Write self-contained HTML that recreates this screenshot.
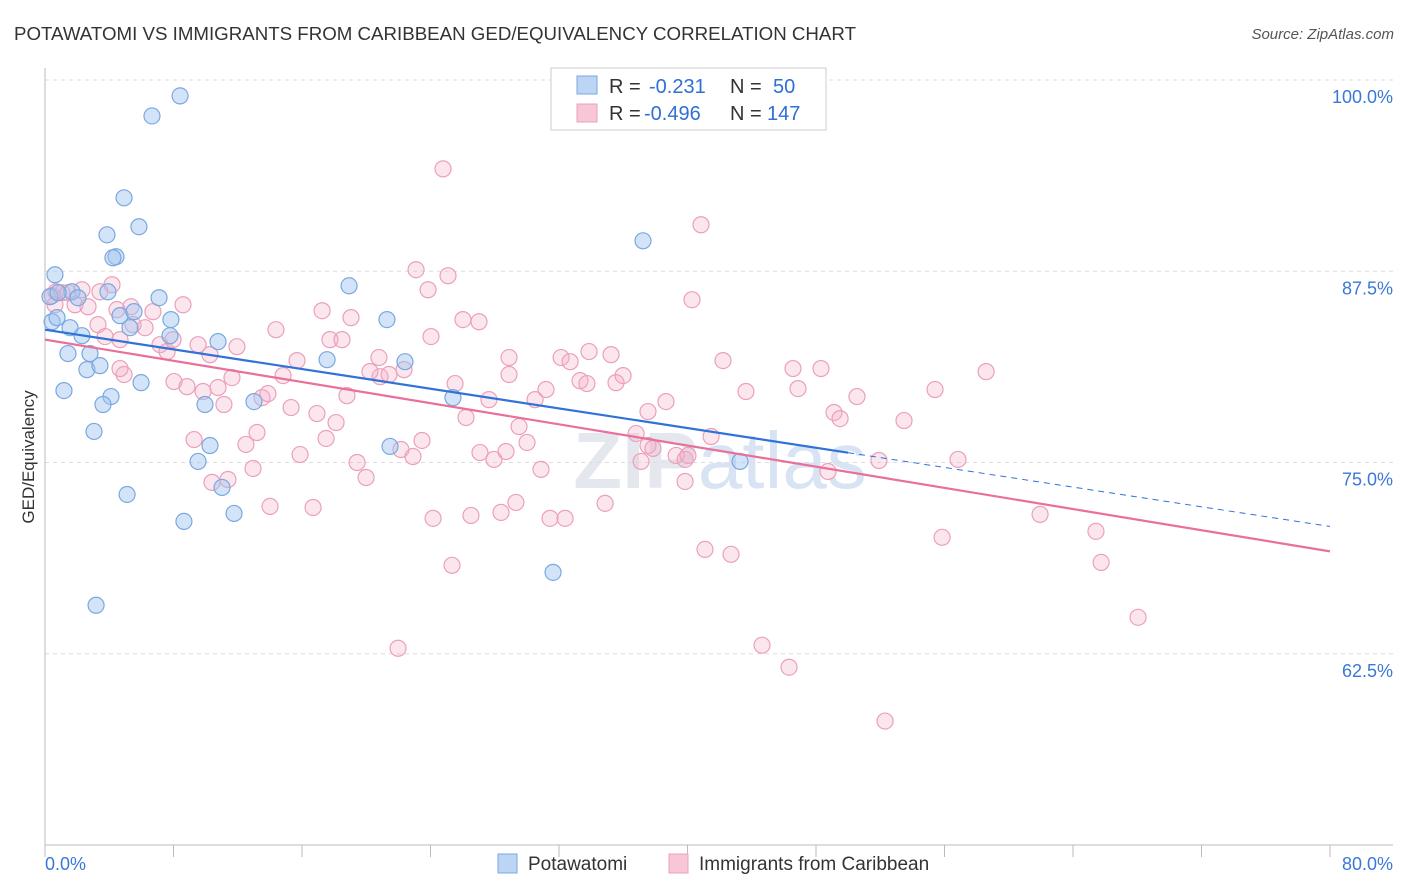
<!DOCTYPE html>
<html><head><meta charset="utf-8">
<style>
body{margin:0;background:#fff;font-family:"Liberation Sans",sans-serif;}
svg{display:block}
</style></head>
<body>
<svg id="chart" width="1406" height="892" xmlns="http://www.w3.org/2000/svg">
<text x="14" y="40" font-size="18.5" fill="#333" textLength="842" lengthAdjust="spacingAndGlyphs">POTAWATOMI VS IMMIGRANTS FROM CARIBBEAN GED/EQUIVALENCY CORRELATION CHART</text>
<text x="1394" y="39" font-size="15" fill="#555" font-style="italic" text-anchor="end">Source: ZipAtlas.com</text>
<text x="720" y="488" font-size="80" fill="#e4e8ee" text-anchor="middle" font-weight="bold">ZIP<tspan fill="#d8e4f4" font-weight="normal">atlas</tspan></text>
<text transform="translate(34,457) rotate(-90)" font-size="17" fill="#333" text-anchor="middle">GED/Equivalency</text>
<g id="grid"></g><g id="axes"></g><g id="pts"></g><g id="lines"></g>
<g>
<rect x="551" y="68" width="275" height="62" fill="#fff" stroke="#ccc"/>
<rect x="577" y="76" width="20" height="18" fill="#bcd5f5" stroke="#7aa8e0"/>
<rect x="577" y="104" width="20" height="18" fill="#f9c6d6" stroke="#eba0bb"/>
<text x="609" y="93" font-size="20" fill="#333">R = <tspan fill="#2f6fd6" x="649">-0.231</tspan><tspan x="730">N = </tspan><tspan fill="#2f6fd6" x="773">50</tspan></text>
<text x="609" y="120" font-size="20" fill="#333">R = <tspan fill="#2f6fd6" x="644">-0.496</tspan><tspan x="730">N = </tspan><tspan fill="#2f6fd6" x="767">147</tspan></text>
</g>
<g>
<rect x="498" y="854" width="19" height="19" fill="#bcd5f5" stroke="#7aa8e0"/>
<text x="528" y="870" font-size="19" fill="#333">Potawatomi</text>
<rect x="669" y="854" width="19" height="19" fill="#f9c6d6" stroke="#eba0bb"/>
<text x="699" y="870" font-size="19" fill="#333">Immigrants from Caribbean</text>
</g>
</svg>
<script>
const yTicks=[100,87.5,75,62.5];
const yTickLabels=["100.0%","87.5%","75.0%","62.5%"];
const xTickLabels=["0.0%","80.0%"];
const blueX=[8.41,6.66,4.92,5.85,3.86,4.42,4.23,37.23,0.62,18.93,7.10,3.92,0.31,1.68,0.81,2.05,0.44,0.75,1.56,2.30,4.67,5.54,7.84,5.29,10.77,7.78,21.29,1.43,2.80,2.61,3.42,17.56,22.41,1.18,5.98,4.11,3.61,13.01,9.96,25.40,3.05,10.27,21.48,9.53,11.02,43.27,5.11,11.77,8.65,31.63,3.18];
const blueY=[98.96,97.65,92.30,90.41,89.88,88.45,88.38,89.49,87.27,86.55,85.77,86.16,85.84,86.16,86.10,85.77,84.20,84.47,83.81,83.29,84.60,84.86,84.34,83.81,82.90,83.29,84.34,82.12,82.12,81.07,81.33,81.72,81.59,79.70,80.22,79.31,78.79,78.98,78.79,79.24,77.03,76.11,76.05,75.07,73.37,75.07,72.91,71.67,71.15,67.82,65.67];
const pinkX=[24.78,40.84,23.10,25.09,23.85,40.28,0.68,1.06,1.43,2.30,3.42,1.87,2.68,0.62,0.44,8.59,4.48,5.35,6.72,17.25,19.05,26.02,27.02,14.38,24.03,3.30,3.74,4.67,6.23,5.48,7.16,7.60,7.97,10.27,9.53,11.95,17.74,18.49,15.69,20.79,28.89,32.13,32.69,33.87,35.24,35.55,42.21,46.57,48.31,58.59,4.92,11.64,8.03,8.84,10.77,9.84,13.51,13.88,14.82,20.86,20.23,21.42,25.53,28.89,31.19,33.31,33.74,35.99,43.64,46.88,55.41,11.14,15.32,16.93,18.12,18.80,22.35,27.64,30.51,38.66,37.54,41.47,50.55,49.12,49.50,53.48,9.28,12.51,13.20,15.88,17.50,19.43,19.99,22.16,22.91,23.47,26.21,27.08,27.95,28.70,29.51,30.01,30.88,36.80,37.11,37.54,37.85,39.29,39.85,40.03,39.85,48.75,51.92,56.84,10.40,11.39,12.95,14.01,16.69,24.16,26.52,28.39,29.32,31.44,32.38,34.87,61.95,55.85,65.43,65.75,41.09,42.71,25.34,68.05,21.98,44.64,46.32,52.30,4.17,4.67];
const pinkY=[94.19,90.54,87.60,87.21,86.29,85.64,86.16,86.10,86.10,86.29,86.16,85.31,85.18,85.31,85.90,85.31,84.99,85.18,84.86,84.92,84.47,84.34,84.20,83.68,83.23,84.01,83.23,83.03,83.81,84.01,82.70,82.25,83.03,82.05,82.70,82.57,83.03,83.03,81.66,81.86,81.86,81.86,81.59,82.25,82.05,80.22,81.66,81.14,81.14,80.94,80.75,80.55,80.29,79.96,79.90,79.64,79.24,79.50,80.68,80.61,80.94,80.75,80.16,80.75,79.77,80.35,80.16,80.68,79.64,79.83,79.77,78.79,78.59,78.20,77.61,79.37,81.07,79.11,79.11,78.98,78.33,76.70,79.31,78.27,77.87,77.74,76.50,76.18,76.96,75.52,76.57,75.00,74.02,75.85,75.39,76.44,77.94,75.65,75.20,75.72,77.35,76.31,74.55,76.89,75.07,76.11,75.92,75.46,75.20,75.46,73.76,74.41,75.13,75.20,73.70,73.89,74.61,72.13,72.06,71.35,71.54,71.74,72.39,71.35,71.35,72.33,71.61,70.11,70.50,68.47,69.32,69.00,68.28,64.88,62.86,63.06,61.62,58.10,86.62,81.14];
const blueTrend=[83.68,70.82];
const pinkTrend=[83.03,69.19];
const blueSolidEnd=50;

const NS="http://www.w3.org/2000/svg";
const X0=45,X1=1330,Ytop=80,Ybot=845;
function sx(v){return X0+(X1-X0)*v/80;}
function sy(v){return Ytop+(100-v)*(Ybot-Ytop)/50;}
function mk(tag,attrs,parent){const e=document.createElementNS(NS,tag);for(const k in attrs)e.setAttribute(k,attrs[k]);document.getElementById(parent).appendChild(e);return e;}

yTicks.forEach((t,i)=>{
  const g=mk('line',{x1:45,x2:1393,y1:sy(t),y2:sy(t),stroke:'#ddd','stroke-dasharray':'4,4'},'grid');
  
  
  const l=mk('text',{x:1393,y:sy(t)+23,'font-size':18,fill:'#3a78d8','text-anchor':'end'},'grid');
  l.textContent=yTickLabels[i];
  
  
});
const ax=mk('line',{x1:45,x2:45,y1:68,y2:845,stroke:'#bbb'},'axes');


const bx=mk('line',{x1:45,x2:1393,y1:845,y2:845,stroke:'#bbb'},'axes');


for(let i=0;i<=10;i++){
  const t=mk('line',{x1:sx(i*8),x2:sx(i*8),y1:845,y2:857,stroke:'#bbb'},'axes');
  
  
}
[[0,'start'],[80,'end']].forEach((p,i)=>{
  const t=mk('text',{x:i==0?45:1393,y:870,'font-size':18,fill:'#3a78d8','text-anchor':p[1]},'axes');
  t.textContent=xTickLabels[i];
  
  
});
pinkX.forEach((x,i)=>{
  const c=mk('circle',{cx:sx(x),cy:sy(pinkY[i]),r:8,fill:'rgba(246,172,198,0.3)',stroke:'#eba0bb','stroke-width':1.2},'pts');
  
  
});
blueX.forEach((x,i)=>{
  const c=mk('circle',{cx:sx(x),cy:sy(blueY[i]),r:8,fill:'rgba(160,196,240,0.45)',stroke:'#7aa8e0','stroke-width':1.2},'pts');
  
  
});
function ty(tr,x){return tr[0]+(tr[1]-tr[0])*x/80;}
const pl=mk('line',{x1:sx(0),y1:sy(ty(pinkTrend,0)),x2:sx(80),y2:sy(ty(pinkTrend,80)),stroke:'#e8709a','stroke-width':2.2},'lines');


const bl=mk('line',{x1:sx(0),y1:sy(ty(blueTrend,0)),x2:sx(blueSolidEnd),y2:sy(ty(blueTrend,blueSolidEnd)),stroke:'#2f72d8','stroke-width':2.2},'lines');


const bd=mk('line',{x1:sx(blueSolidEnd),y1:sy(ty(blueTrend,blueSolidEnd)),x2:sx(80),y2:sy(ty(blueTrend,80)),stroke:'#2f72d8','stroke-width':1,'stroke-dasharray':'6,5'},'lines');


</script>
</body></html>
